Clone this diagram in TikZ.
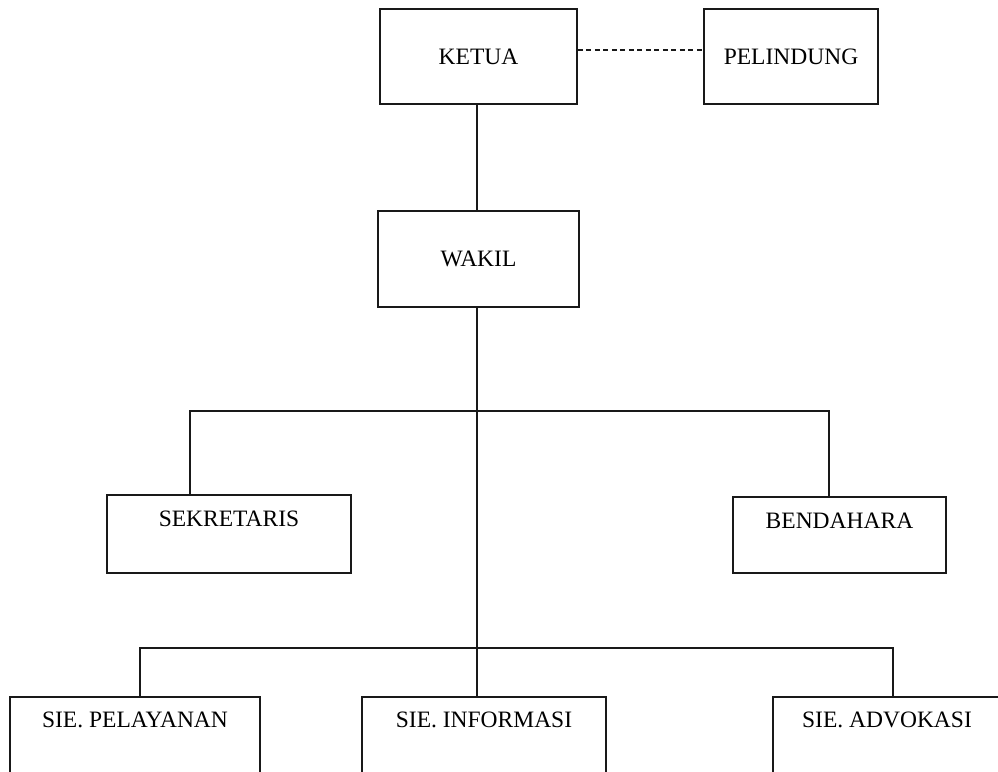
\documentclass[tikz,border=0pt]{standalone}
\usepackage{fontspec}
\setmainfont{Liberation Serif}
\begin{document}
\begin{tikzpicture}[x=1pt,y=-1pt,
  box/.style={draw=black!90, line width=1.9pt, rectangle, inner sep=0pt,
    font=\fontsize{23.5}{28}\selectfont},
  conn/.style={draw=black!90, line width=1.9pt}]
\useasboundingbox (0,0) rectangle (998,771);
\clip (0,0) rectangle (998,771);
\fill[white] (0,0) rectangle (998,771);
% boxes
\node[box, minimum width=197pt, minimum height=95pt] (ketua) at (478.5,56.5) {KETUA};
\node[box, minimum width=174pt, minimum height=95pt] (pel) at (791,56.5) {PELINDUNG};
\node[box, minimum width=201pt, minimum height=96pt] (wakil) at (478.5,259) {WAKIL};
\node[box, anchor=base, minimum width=244pt, text height=31pt, text depth=47pt] (sek) at (229,526) {SEKRETARIS};
\node[box, anchor=base, minimum width=213pt, text height=31pt, text depth=45pt] (ben) at (839.5,528) {BENDAHARA};
\node[box, anchor=base, minimum width=250pt, text height=30pt, text depth=80pt] (sie1) at (135,727) {SIE. PELAYANAN};
\node[box, anchor=base, minimum width=244pt, text height=30pt, text depth=80pt] (sie2) at (484,727) {SIE. INFORMASI};
\node[box, anchor=base, minimum width=250pt, text height=30pt, text depth=80pt] (sie3) at (898,727) {SIE. ADVOKASI\hspace*{22pt}};
% bus coordinates
\coordinate (bus1) at (477,411);
\coordinate (bus2) at (477,648);
\coordinate (dashy) at (0,50);
% connectors
\draw[conn, dash pattern=on 5pt off 3.5pt, line width=1.6pt] (ketua.east |- dashy) -- (pel.west |- dashy);
\draw[conn] (ketua.south -| bus1) -- (wakil.north -| bus1);
\draw[conn] (wakil.south -| bus2) -- (bus2);
\draw[conn] ([xshift=84pt]sek.north west) |- (bus1) -| ([xshift=97pt]ben.north west);
\draw[conn] ([xshift=131pt]sie1.north west) |- (bus2) -| ([xshift=121pt]sie3.north west);
\draw[conn] (bus2) -- (sie2.north -| bus2);
\end{tikzpicture}
\end{document}
